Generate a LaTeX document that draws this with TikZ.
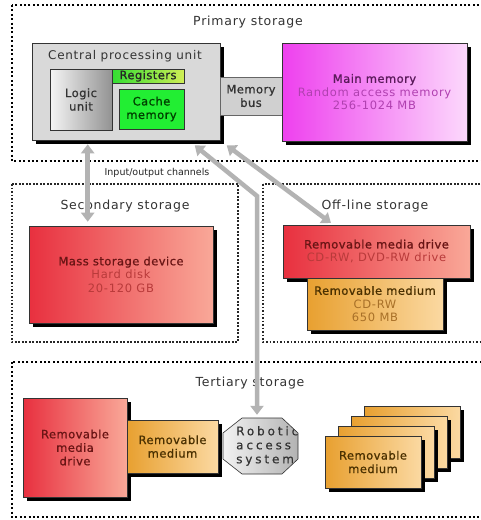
\documentclass[tikz,border=0pt]{standalone}
\usepackage{fontspec}
\setmainfont{DejaVu Sans}
\newfontfamily\lsp[LetterSpace=6]{DejaVu Sans}
\newfontfamily\lspb[LetterSpace=4,FakeBold=0.9]{DejaVu Sans}
\newfontfamily\lspw[LetterSpace=24,FakeBold=0.4]{DejaVu Sans}
\usetikzlibrary{arrows.meta,shadows,calc}
\definecolor{redL}{HTML}{E8303F}
\definecolor{redR}{HTML}{F9A898}
\definecolor{redT}{HTML}{6A1515}
\definecolor{redS}{HTML}{B83A3A}
\definecolor{orL}{HTML}{E8A030}
\definecolor{orR}{HTML}{FBD9A2}
\definecolor{orT}{HTML}{4A3000}
\definecolor{orS}{HTML}{A87028}
\definecolor{magL}{HTML}{EE40EE}
\definecolor{magR}{HTML}{FCD8FC}
\definecolor{magT}{HTML}{5A1A5A}
\definecolor{magS}{HTML}{B040B0}
\definecolor{arrowgray}{HTML}{B3B3B3}
\definecolor{txt}{HTML}{333333}
\definecolor{cpugray}{HTML}{D9D9D9}
\definecolor{busgray}{HTML}{D0D0D0}
\definecolor{cachegreen}{HTML}{22EE33}
\definecolor{regL}{HTML}{33DD33}
\definecolor{regR}{HTML}{D0EE55}
\begin{document}
\begin{tikzpicture}[x=1pt,y=-1pt,
  group/.style={draw=black, line width=2.2pt, dash pattern=on 2pt off 2.4pt},
  groupthin/.style={draw=black!85, line width=1.6pt, dash pattern=on 1.6pt off 1.9pt},
  gtitle/.style={text=txt, font=\lsp\fontsize{12.5}{14}\selectfont, inner sep=0pt},
  box/.style={draw=black!80, line width=0.6pt, inner sep=0pt, align=center,
    font=\lsp\fontsize{11.5}{13.5}\selectfont},
  boldbox/.style={box, font=\lspb\fontsize{11.5}{13.5}\selectfont},
  shad/.style={drop shadow={shadow xshift=4pt,shadow yshift=-4pt,fill=black,opacity=1}},
  redbox/.style={box,shad,left color=redL,right color=redR},
  orbox/.style={box,shad,left color=orL,right color=orR},
  magbox/.style={box,shad,left color=magL,right color=magR},
  io/.style={draw=arrowgray, line width=4.5pt,
    {Triangle[width=13pt,length=9pt]}-{Triangle[width=13pt,length=9pt]}}
]
\useasboundingbox (0,0) rectangle (481,520);
\fill[white] (0,0) rectangle (481,520);
\clip (0,0) rectangle (481,520);

% group frames
\draw[group] (12,5) rectangle (490,161);
\draw[groupthin] (12,184) rectangle (238,342);
\draw[groupthin] (263,184) rectangle (490,342);
\draw[group] (12,362) rectangle (490,517);

\node[gtitle] (tprim) at (248,22) {Primary storage};
\node[gtitle] (tsec) at (125,206) {Secondary storage};
\node[gtitle] (toff) at (375,206) {Off-line storage};
\node[gtitle] (tter) at (250,383) {Tertiary storage};

% primary storage
\node[box, shad, fill=cpugray, minimum width=188pt, minimum height=97pt] (cpu) at (126,91.5) {};
\node[text=txt, font=\lsp\fontsize{12}{14}\selectfont, inner sep=0pt] (cputitle) at (125,56) {Central processing unit};
\node[boldbox, text=txt, left color=gray!8, right color=gray!85, minimum width=62pt, minimum height=61pt] (logic) at (81,99.5) {Logic\\unit};
\node[boldbox, text=black!85, left color=regL, right color=regR, minimum width=72pt, minimum height=14pt] (reg) at (148,76) {Registers};
\node[boldbox, text=green!25!black, fill=cachegreen, minimum width=65pt, minimum height=40pt] (cache) at (151.5,109) {Cache\\memory};
\node[boldbox, text=txt, fill=busgray, draw=black!60, minimum width=62pt, minimum height=38pt] (bus) at (251,96) {Memory\\bus};
\node[magbox, minimum width=185pt, minimum height=98pt] (main) at (374.5,92) {{\lspb\color{magT}Main memory}\\{\color{magS}Random access memory}\\{\color{magS}256-1024 MB}};

% secondary storage
\node[redbox, minimum width=184pt, minimum height=97pt] (mass) at (121,274.5) {{\lspb\color{redT}Mass storage device}\\{\color{redS}Hard disk}\\{\color{redS}20-120 GB}};

% off-line storage
\node[redbox, minimum width=187pt, minimum height=53pt] (offdrive) at (376.5,251.5) {{\lspb\color{redT}Removable media drive}\\{\color{redS}CD-RW, DVD-RW drive}};
\node[orbox, minimum width=136pt, minimum height=52pt] (offmed) at (375,304) {{\lspb\color{orT}Removable medium}\\{\color{orS}CD-RW}\\{\color{orS}650 MB}};

% tertiary storage
\node[redbox, boldbox, text=redT, minimum width=104pt, minimum height=99pt] (tdrive) at (75,447.5) {Removable\\media\\drive};
\node[orbox, boldbox, text=orT, minimum width=91pt, minimum height=53pt] (tmed) at (172.5,446.5) {Removable\\medium};

% robotic access system (octagon)
\node[inner sep=0pt, minimum width=75pt, minimum height=56pt] (robot) at (260.5,446) {};
\draw[draw=black!80, line width=0.6pt, left color=gray!10, right color=gray!60]
  (242,418) -- (282,418) -- (298,433) -- (298,459) -- (282,474) -- (242,474) -- (223,459) -- (223,433) -- cycle;
\begin{scope}
  \clip (242,418) -- (282,418) -- (298,433) -- (298,459) -- (282,474) -- (242,474) -- (223,459) -- (223,433) -- cycle;
  \node[anchor=west, align=left, inner sep=0pt, text=txt, font=\lspw\fontsize{12}{14}\selectfont] (robottext) at (236,446) {Robotic\\access\\system};
\end{scope}

% stack of removable media
\node[orbox, minimum width=96pt, minimum height=52pt] (s4) at (412,432) {};
\node[orbox, minimum width=96pt, minimum height=52pt] (s3) at (399,442) {};
\node[orbox, minimum width=96pt, minimum height=52pt] (s2) at (386,452) {};
\node[orbox, boldbox, text=orT, minimum width=96pt, minimum height=52pt] (s1) at (373,462) {Removable\\medium};

% input/output channels
\coordinate (a1top) at ($(cpu.south west)+(56,4)$);
\coordinate (a1bot) at (a1top |- mass.north);
\draw[io] (a1top) -- ($(a1bot)+(0,-4)$);
\coordinate (a2top) at ($(cpu.south west)+(163,5)$);
\coordinate (a2bend) at (257,196);
\coordinate (a2bot) at (a2bend |- robot.north);
\draw[io] (a2top) -- (a2bend) -- ($(a2bot)+(0,-3)$);
\coordinate (a3top) at ($(cpu.south west)+(195,5)$);
\coordinate (a3bot) at (331,223);
\draw[io] (a3top) -- (a3bot);
\node[text=black!85, font=\fontsize{9.5}{11}\selectfont, inner sep=0pt] (iolabel) at (157,173) {Input/output channels};
\end{tikzpicture}
\end{document}
